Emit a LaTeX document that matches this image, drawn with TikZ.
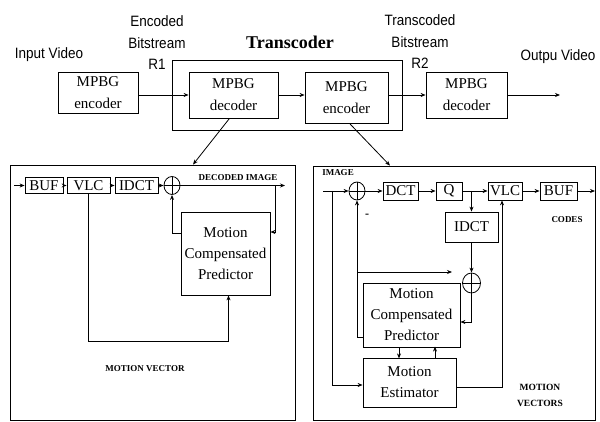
\documentclass[tikz,border=0pt]{standalone}
\usepackage{fontspec}
\setmainfont{Liberation Serif}
\newfontfamily\lblfont[FakeStretch=0.9]{Liberation Sans}
\usetikzlibrary{positioning,arrows.meta,shapes.geometric}

\begin{document}
\begin{tikzpicture}[x=1pt,y=-1pt,->,>={Stealth[length=5pt,width=4pt]},line width=0.8pt,
   blk/.style={draw,rectangle,inner sep=0pt,align=center,font=\fontsize{15}{21}\selectfont},
   mpg/.style={blk,font=\fontsize{15}{22}\selectfont},
   sum/.style={draw,ellipse,minimum width=16pt,minimum height=18pt,inner sep=0pt,
     path picture={\draw[-] (path picture bounding box.north) -- (path picture bounding box.south)
       (path picture bounding box.west) -- (path picture bounding box.east);}},
   lbl/.style={font=\lblfont\fontsize{15}{21.5}\selectfont,align=center},
   tag/.style={font=\bfseries\fontsize{9}{16}\selectfont,align=center}]
  \useasboundingbox (0,0) rectangle (600,422);

  \node[lbl] (invid) at (49,55) {Input Video};
  \node[lbl] (r1) at (157,43) {Encoded\\Bitstream\\R1};
  \node[font=\bfseries\fontsize{18}{20}\selectfont] (tct) at (290,42) {Transcoder};
  \node[lbl] (r2) at (420,42) {Transcoded\\Bitstream\\R2};
  \node[lbl] (outvid) at (558,57) {Outpu Video};

  \node[draw,minimum width=230pt,minimum height=70pt] (tc) at (287,95) {};
  \node[mpg,minimum width=80pt,minimum height=41pt] (enc1) at (98,92.5) {MPBG\\encoder};
  \node[mpg,minimum width=89pt,minimum height=46pt] (dec1) at (233.5,95) {MPBG\\decoder};
  \node[mpg,minimum width=83pt,minimum height=51pt] (enc2) at (346.5,97.5) {MPBG\\encoder};
  \node[mpg,minimum width=81pt,minimum height=46pt] (dec2) at (466.5,95) {MPBG\\decoder};
  \coordinate (vout) at (560,95);

  \draw (enc1.east |- dec1) -- (dec1);
  \draw (dec1.east) -- (dec1.east -| enc2.west);
  \draw (enc2.east |- dec2) -- (dec2);
  \draw (dec2.east) -- (vout);

  \node[draw,minimum width=285pt,minimum height=255pt] (lp) at (152.5,292.5) {};
  \node[draw,minimum width=282pt,minimum height=254pt] (rp) at (454,293) {};
  \draw ([xshift=-4pt]dec1.south) -- ([xshift=40.5pt]lp.north);
  \draw ([xshift=3pt]enc2.south) -- ([xshift=-64pt]rp.north);

  \coordinate (lin) at (14,185.5);
  \node[blk,minimum width=38pt,minimum height=16pt] (lbuf) at (44,185.5) {BUF};
  \node[blk,minimum width=43pt,minimum height=16pt] (lvlc) at (88.5,185.5) {VLC};
  \node[blk,minimum width=43pt,minimum height=16pt] (lidct) at (136.5,185.5) {IDCT};
  \node[sum] (lsum) at (172,185.5) {};
  \coordinate (ltap) at (275,185.5);
  \coordinate (ldec) at (285,185.5);
  \node[tag] (ldtxt) at (238,178) {DECODED IMAGE};
  \node[blk,minimum width=89pt,minimum height=83pt] (lmcp) at (225.5,253.5) {Motion\\Compensated\\Predictor};
  \node[tag] (lmvtxt) at (145,369) {MOTION VECTOR};

  \path (lin) edge (lbuf)
    (lbuf) edge (lvlc)
    (lvlc) edge (lidct)
    (lidct) edge (lsum)
    (lsum) edge (ldec);
  \draw (ltap) |- ([yshift=21.5pt]lmcp.east);
  \draw ([yshift=20.5pt]lmcp.west) -| (lsum);
  \draw (lvlc.south) -- ++(0,147) -| ([xshift=3pt]lmcp.south);

  \node[tag] (rimg) at (338,173) {IMAGE};
  \coordinate (rin) at (323,191);
  \coordinate (rsplit) at (332,191);
  \node[sum] (rsum1) at (357,191) {};
  \node[blk,minimum width=35pt,minimum height=18pt] (rdct) at (400.5,191) {DCT};
  \node[blk,minimum width=26pt,minimum height=18pt] (rq) at (449,191) {Q};
  \node[blk,minimum width=34pt,minimum height=18pt] (rvlc) at (505,191) {VLC};
  \node[blk,minimum width=37pt,minimum height=18pt] (rbuf) at (558.5,191) {BUF};
  \coordinate (rout) at (595,191);
  \node[tag] (rcodes) at (567,220) {CODES};
  \node[tag,font=\bfseries\fontsize{12}{12}\selectfont] (minus) at (367,216) {-};
  \node[blk,minimum width=53pt,minimum height=30pt] (ridct) at (471.5,227) {IDCT};
  \node[sum,minimum width=18pt,minimum height=20pt] (rsum2) at (471.5,283) {};
  \coordinate (rtap) at (357,272);
  \coordinate (radd) at (452,272);
  \node[blk,minimum width=97pt,minimum height=64pt] (rmcp) at (411.5,315) {Motion\\Compensated\\Predictor};
  \node[blk,minimum width=93pt,minimum height=49pt] (rme) at (409.5,382.5) {Motion\\Estimator};
  \node[tag,font=\bfseries\fontsize{9.5}{16}\selectfont] (rmvtxt) at (540,395) {MOTION\\VECTORS};

  \path (rin) edge (rsum1)
    (rsum1) edge (rdct)
    (rdct) edge (rq)
    (rq) edge (rvlc)
    (rvlc) edge (rbuf)
    (rbuf) edge (rout)
    (ridct.north |- rq.east) edge (ridct)
    (ridct) edge (rsum2)
    (rtap) edge (radd);
  \draw ([yshift=-22pt]rmcp.west) -| (rsum1);
  \draw (rsum2) |- ([yshift=-7pt]rmcp.east);
  \draw (rsplit) |- ([yshift=-2.5pt]rme.west);
  \draw ([yshift=-4.5pt]rme.east) -| ([xshift=-3pt]rvlc.south);
  \draw (rmcp.south) ++(-12.5,0) -- ++(0,11);
  \draw (rme.north) ++(25.5,0) -- ++(0,-11);
\end{tikzpicture}
\end{document}
